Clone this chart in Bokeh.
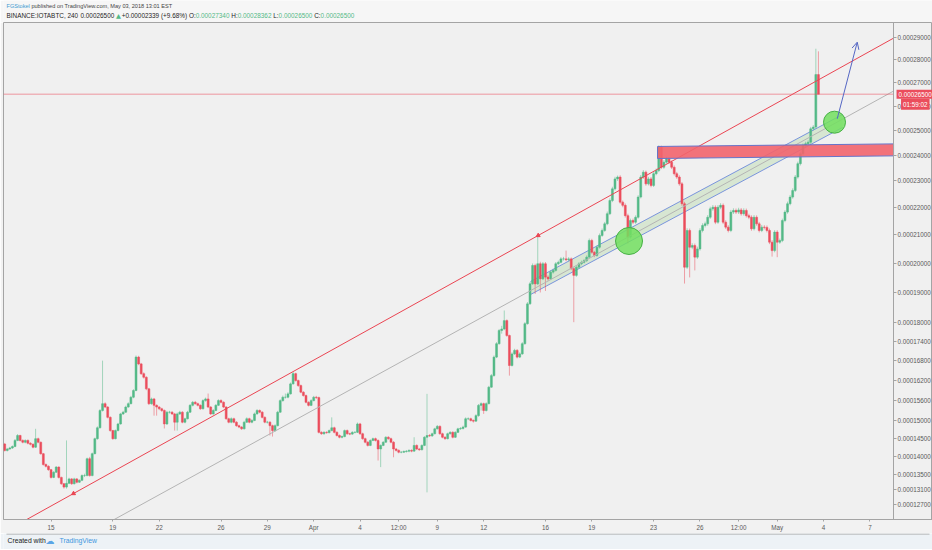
import math
import numpy as np
import pandas as pd
from bokeh.plotting import figure
from bokeh.layouts import column
from bokeh.models import (ColumnDataSource, Range1d, FixedTicker, CustomJSTickFormatter,
                          CustomJSTransform, Label, Arrow, OpenHead)
from bokeh.transform import transform
from bokeh.embed import file_html
from bokeh.resources import INLINE

# ---------------------------------------------------------------- data
SAT = 1e-8
bar_start = "2018-03-12 00:00"          # first 4h bar shown
first_open_sat = 14340                  # open of the first bar (later opens = previous close)

close_sat = [
    14160, 14200, 14230, 14270, 14440, 14580, 14440, 14390, 14440, 14360,
    14330, 14250, 14490, 14390, 14070, 13770, 13720, 13630, 13420, 13560,
    13700, 13420, 13250, 13160, 13260, 13380, 13250, 13380, 13290, 13340,
    13470, 13470, 13930, 13470, 14070, 14490, 14800, 15300, 15500, 15400,
    15100, 14720, 14490, 14720, 14910, 15200, 15250, 15400, 15500, 15690,
    15890, 16910, 16700, 16400, 16290, 15940, 15500, 15640, 15450, 15400,
    15350, 15300, 14910, 15250, 15250, 15200, 14960, 15200, 15250, 14960,
    15060, 15250, 15450, 15540, 15500, 15450, 15350, 15590, 15640, 15400,
    15200, 15300, 15450, 15590, 15540, 15400, 15060, 14960, 15060, 14960,
    14860, 14820, 14770, 14960, 15060, 14960, 15010, 15200, 15300, 15250,
    15100, 14960, 14960, 14860, 14720, 14860, 15250, 15590, 15690, 15690,
    15790, 16090, 16400, 16190, 16040, 15840, 15740, 15540, 15450, 15590,
    15690, 15680, 14670, 14630, 14670, 14660, 14720, 14800, 14670, 14580,
    14530, 14550, 14720, 14630, 14620, 14670, 14670, 14910, 14630, 14490,
    14390, 14300, 14440, 14490, 14440, 14200, 14300, 14390, 14530, 14490,
    14390, 14200, 14160, 14110, 14110, 14130, 14140, 14160, 14140, 14300,
    14200, 14180, 14300, 14530, 14580, 14570, 14630, 14770, 14840, 14630,
    14530, 14490, 14630, 14670, 14530, 14670, 14770, 14780, 14820, 15060,
    15060, 15010, 14990, 15150, 15450, 15500, 15300, 15500, 15990, 16340,
    16910, 17330, 17750, 17800, 18070, 17590, 16650, 17010, 17120, 16910,
    17010, 17330, 17970, 18620, 19290, 19920, 19290, 19980, 19460, 19980,
    19520, 19460, 19690, 19750, 19980, 20030, 20150, 20150, 20120, 20150,
    19810, 19580, 19860, 19980, 20030, 20090, 20210, 20800, 20380, 20270,
    20560, 20980, 21160, 21400, 21770, 22260, 22700, 23080, 23150, 22200,
    22080, 21700, 20920, 21520, 21460, 21640, 22390, 23150, 23340, 22890,
    23080, 22830, 23280, 23400, 24320, 23530, 23730, 23860, 23730, 23530,
    23280, 23150, 22890, 22140, 19860, 21160, 20560, 20620, 20210, 20500,
    21160, 21340, 21400, 21640, 21950, 22010, 21460, 22010, 22080, 21460,
    21280, 21160, 21830, 21890, 21830, 21910, 21770, 21890, 21700, 21640,
    21220, 21640, 21400, 21160, 21280, 21270, 21160, 20740, 20440, 21100,
    20740, 20800, 21520, 21830, 22140, 22390, 22640, 23150, 23670, 24060,
    24390, 24460, 24520, 25060, 25130, 27340, 26500]

high_sat = [
    14370, 14230, 14260, 14300, 14480, 14620, 14600, 14470, 14470, 14470,
    14390, 14360, 14770, 14520, 14410, 14090, 13800, 13750, 13650, 13590,
    13730, 13720, 13440, 13270, 14440, 13410, 13400, 13410, 13400, 13370,
    13500, 13520, 13960, 13980, 14100, 14520, 14840, 15340, 16800, 15540,
    15430, 15130, 14740, 14750, 14940, 15230, 15290, 15440, 15540, 15730,
    15930, 16960, 16950, 16730, 16440, 16320, 15970, 15680, 15670, 15480,
    15430, 15380, 15330, 15290, 15290, 15280, 15230, 15240, 15290, 15280,
    15090, 15290, 15490, 15580, 15580, 15530, 15480, 15630, 15680, 15800,
    15430, 15340, 15490, 15630, 15630, 15570, 15430, 15090, 15100, 15090,
    14990, 14890, 14850, 15000, 15100, 15090, 15050, 15240, 15340, 15330,
    15280, 15130, 15000, 14990, 14890, 14900, 15290, 15630, 15740, 15800,
    15840, 16130, 16450, 16430, 16220, 16070, 15870, 15770, 15570, 15630,
    15730, 15730, 15710, 14700, 14700, 14700, 14750, 15100, 14830, 14700,
    14610, 14580, 14750, 14750, 14660, 14700, 14700, 14950, 14940, 14660,
    14520, 14420, 14470, 14520, 14520, 14470, 14330, 14420, 14560, 14560,
    14520, 14420, 14230, 14190, 14140, 14160, 14170, 14190, 14190, 14530,
    14330, 14230, 14330, 14560, 15790, 14620, 14660, 14800, 14880, 14870,
    14660, 14560, 14660, 14700, 14700, 14700, 14800, 14820, 14860, 15100,
    15100, 15090, 15040, 15190, 15490, 15540, 15530, 15540, 16030, 16390,
    16960, 17380, 17800, 17900, 18400, 18110, 17620, 17060, 17170, 17160,
    17060, 17380, 18020, 18680, 19350, 19990, 19980, 20980, 20050, 20040,
    20040, 19580, 19750, 19810, 20040, 20090, 20210, 20220, 20440, 20210,
    20200, 19860, 19920, 20040, 20090, 20150, 20270, 20870, 20860, 20430,
    20620, 21050, 21230, 21470, 21850, 22340, 22780, 23160, 23210, 23220,
    22260, 22150, 21770, 21590, 21590, 21710, 22460, 23230, 23420, 23400,
    23160, 23150, 23360, 23480, 24390, 24380, 23810, 23940, 23930, 23800,
    23600, 23350, 23220, 22960, 22210, 21240, 21230, 20700, 20690, 20580,
    21240, 21420, 21480, 21720, 22030, 22090, 22080, 22090, 22160, 22150,
    21530, 21350, 21910, 21970, 21960, 21990, 21980, 21970, 21960, 21770,
    21710, 21720, 21710, 21470, 21360, 21350, 21340, 21230, 20810, 21170,
    21170, 20870, 21590, 21900, 22220, 22470, 22720, 23230, 23750, 24140,
    24470, 24540, 24600, 25140, 25210, 28480, 28362]

low_sat = [
    14130, 14130, 14180, 14200, 14250, 14420, 14410, 14360, 14360, 14330,
    14300, 14220, 14230, 14360, 14040, 13740, 13690, 13600, 13390, 13400,
    13540, 13390, 13220, 13120, 13120, 13240, 13220, 13230, 13260, 13270,
    13320, 13430, 13450, 13440, 13450, 14050, 14460, 14780, 15270, 15370,
    15070, 14690, 14460, 14470, 14700, 14890, 15170, 15230, 15380, 15480,
    15660, 15870, 16660, 16360, 16250, 15900, 15460, 15470, 15150, 15150,
    15310, 15260, 14780, 14880, 15210, 15170, 14720, 14720, 15170, 14930,
    14930, 15040, 15230, 15420, 15470, 15420, 15320, 15330, 15560, 15370,
    15170, 15180, 15280, 15430, 15510, 15370, 15030, 14930, 14930, 14930,
    14830, 14790, 14740, 14750, 14940, 14930, 14930, 14990, 15180, 15220,
    15070, 14930, 14920, 14580, 14550, 14690, 14840, 15230, 15560, 15650,
    15660, 15770, 16070, 16160, 16000, 15810, 15710, 15510, 15420, 15430,
    15570, 15640, 14640, 14600, 14600, 14630, 14640, 14700, 14640, 14550,
    14500, 14500, 14530, 14600, 14590, 14600, 14640, 14650, 14600, 14460,
    14360, 14270, 14280, 14420, 14410, 13880, 13700, 14280, 14370, 14460,
    14360, 13970, 14130, 14080, 14080, 14090, 14100, 14110, 14110, 14120,
    14170, 14150, 14160, 14280, 13020, 14540, 14540, 14610, 14750, 14600,
    14500, 14460, 14470, 14610, 14500, 14510, 14650, 14740, 14750, 14800,
    15020, 14980, 14950, 14970, 15120, 15300, 15200, 15270, 15480, 15970,
    16310, 16880, 17300, 17650, 17760, 17550, 16340, 16620, 16980, 16870,
    16880, 16980, 17300, 17940, 18590, 19260, 18950, 19250, 19000, 19420,
    19050, 19400, 19420, 19640, 19710, 19930, 19990, 20090, 20070, 20070,
    19760, 18020, 19530, 19810, 19930, 19990, 20040, 20170, 20330, 20210,
    20220, 20510, 20930, 21110, 21350, 21720, 22200, 22640, 23000, 22140,
    22010, 21630, 20690, 20870, 21390, 21400, 21590, 22340, 23080, 22820,
    22830, 22760, 22770, 23220, 23340, 23460, 23470, 23670, 23660, 23460,
    23210, 23080, 22820, 22060, 19300, 19800, 19510, 20490, 19750, 20150,
    20440, 21090, 21270, 21330, 21580, 21880, 21390, 21400, 21940, 21390,
    21210, 21090, 21100, 21760, 21760, 21760, 21700, 21700, 21630, 21570,
    21150, 21160, 21330, 21090, 21100, 21200, 21090, 20670, 20230, 20380,
    20210, 20680, 20740, 21460, 21770, 22080, 22330, 22580, 23090, 23600,
    23990, 24310, 24380, 24450, 24990, 25060, 26500]

# drawings on the chart (time, price in satoshi)
red_trend_time = ["2018-03-16 10:54", "2018-04-15 12:42"]
red_trend_sat = [12989, 20979]
gray_trend_time = ["2018-03-21 10:30", "2018-05-05 10:06"]
gray_trend_sat = [12830, 25525]
channel_time = ["2018-04-15 00:48", "2018-05-05 05:24"]
channel_upper_sat = [19370, 25649]
channel_lower_sat = [18931, 25115]
zone_time = ["2018-04-23 06:06", "2018-05-08 12:42"]
zone_top_sat = [24349, 24452]
zone_bottom_sat = [23873, 23976]
circle_time = ["2018-04-21 09:48", "2018-05-04 17:00"]
circle_sat = [20781, 25331]
arrow_time = ["2018-05-04 21:12", "2018-05-06 04:18"]
arrow_sat = [25471, 28775]
last_price_sat = 26500
countdown = "01:59:02"

x_tick_dates = ["2018-03-15", "2018-03-19", "2018-03-22", "2018-03-26", "2018-03-29",
                "2018-04-01", "2018-04-04", "2018-04-06 12:00", "2018-04-09", "2018-04-12",
                "2018-04-16", "2018-04-19", "2018-04-23", "2018-04-26", "2018-04-28 12:00",
                "2018-05-01", "2018-05-04", "2018-05-07"]
x_tick_labels = ["15", "19", "22", "26", "29", "Apr", "4", "12:00", "9", "12",
                 "16", "19", "23", "26", "12:00", "May", "4", "7"]
y_tick_sat = [29000, 28000, 27000, 26000, 25000, 24000, 23000, 22000, 21000, 20000,
              19000, 18000, 17400, 16800, 16200, 15600, 15000, 14500, 14000, 13500,
              13100, 12700]

header_1 = ["FGStokel", "published on TradingView.com, May 03, 2018 13:01 EST"]
header_2 = ["BINANCE:IOTABTC, 240", "0.00026500", "\u25b2", "+0.00002339 (+9.68%)",
            "O:", "0.00027340", "H:", "0.00028362", "L:", "0.00026500", "C:", "0.00026500"]

# ---------------------------------------------------------------- helpers
OFFSET = 9500 * SAT   # the reference price axis is log(price + offset)
UP, DOWN = "#53b987", "#eb4d5c"
FONT = "Liberation Sans"
W = 932
VIEW_START = "2018-03-11 22:08"
AXIS_AT = "2018-05-08 12:42"      # where the price scale starts
VIEW_END = "2018-05-11 01:12"


def ms(s):
    return pd.Timestamp(s).value / 1e6


def ty(price):
    return math.log(price + OFFSET)


def line_at(times_, sats, t_new):
    """price of the straight (on screen) line through two anchors, at time t_new"""
    t0, t1 = ms(times_[0]), ms(times_[1])
    y0, y1 = ty(sats[0] * SAT), ty(sats[1] * SAT)
    yy = y0 + (y1 - y0) * (ms(t_new) - t0) / (t1 - t0)
    return math.exp(yy) - OFFSET


tf = CustomJSTransform(
    args=dict(c=OFFSET),
    func="return Math.log(x + c)",
    v_func="const out = new Float64Array(xs.length); for (let i = 0; i < xs.length; i++) { out[i] = Math.log(xs[i] + c) } return out")

n = len(close_sat)
times = pd.date_range(bar_start, periods=n, freq="4h")
c = np.array(close_sat) * SAT
o = np.array([first_open_sat] + close_sat[:-1]) * SAT
h = np.array(high_sat) * SAT
lo = np.array(low_sat) * SAT
colors = np.where(c >= o, UP, DOWN)
src = ColumnDataSource(dict(t=times, h=h, l=lo, top=np.maximum(o, c), bot=np.minimum(o, c), color=colors))

# ---------------------------------------------------------------- header strip
header = figure(width=W, height=22, x_range=Range1d(0, W), y_range=Range1d(0, 22),
                x_axis_type=None, y_axis_type=None, toolbar_location=None,
                output_backend="svg", min_border=0)
header.outline_line_color = None
header.background_fill_color = "#f6f6f6"
header.border_fill_color = "#f6f6f6"


def htext(fig, x, y, t, color, size, font=FONT):
    fig.add_layout(Label(x=x, y=y, x_units="screen", y_units="screen", text=t, text_color=color,
                         text_font=font, text_font_size=f"{size}px", text_baseline="middle"))


htext(header, 3, 17, header_1[0], "#3d9ad1", 5.6)
htext(header, 3 + (4.168 + 0.278) * 5.6, 17, header_1[1], "#444444", 5.6)
em2 = [0, 11.559, 17.119, 17.997, 28.504, 29.56, 35.12, 36.12, 41.68, 42.514, 48.074, 49.074]
col2 = ["#1e1e1e", "#1e1e1e", UP, "#1e1e1e", "#1e1e1e", UP, "#1e1e1e", UP, "#1e1e1e", UP, "#1e1e1e", UP]
for e, tt, cc in zip(em2, header_2, col2):
    htext(header, 3 + e * 6.4, 6.7, tt, cc, 6.4, font=("DejaVu Sans" if tt == "\u25b2" else FONT))

# ---------------------------------------------------------------- main chart
MH = 511            # frame 497 px + x-axis strip
p = figure(width=W, height=MH,
           x_range=Range1d(ms(VIEW_START), ms(VIEW_END)),
           y_range=Range1d(ty(12311 * SAT), ty(29672 * SAT)),
           y_axis_location="right", output_backend="svg", toolbar_location=None,
           min_border_left=3, min_border_right=0, min_border_top=0, min_border_bottom=14)

p.background_fill_color = "#f0f0f0"
p.border_fill_color = "#f2f2f2"
p.outline_line_color = "#a4a4a4"
p.xgrid.grid_line_color = None
p.ygrid.grid_line_color = None

for ax in (p.xaxis[0], p.yaxis[0]):
    ax.axis_line_color = "#a4a4a4"
    ax.major_tick_line_color = "#a4a4a4"
    ax.minor_tick_line_color = None
    ax.major_tick_in = 0
    ax.major_label_text_font = FONT
    ax.major_label_text_font_size = "6.3px"
    ax.major_label_text_color = "#5a5a5a"

p.xaxis.major_tick_out = 2
p.xaxis.major_label_standoff = 2
p.xaxis.ticker = FixedTicker(ticks=[ms(d) for d in x_tick_dates])
p.xaxis.formatter = CustomJSTickFormatter(args=dict(labels=x_tick_labels), code="return labels[index]")

p.yaxis.fixed_location = ms(AXIS_AT)
p.yaxis.major_tick_out = 3
p.yaxis.major_label_standoff = 1
p.yaxis.ticker = FixedTicker(ticks=[ty(v * SAT) for v in y_tick_sat])
p.yaxis.formatter = CustomJSTickFormatter(args=dict(c=OFFSET), code="return (Math.exp(tick) - c).toFixed(8)")

# channel (behind candles)
ch_t = [pd.Timestamp(s) for s in channel_time]
ch_src = ColumnDataSource(dict(x=[ch_t[0], ch_t[1], ch_t[1], ch_t[0]],
                               y=[channel_upper_sat[0] * SAT, channel_upper_sat[1] * SAT,
                                  channel_lower_sat[1] * SAT, channel_lower_sat[0] * SAT]))
p.patch(x="x", y=transform("y", tf), source=ch_src, fill_color="#a9d39c", fill_alpha=0.35, line_color=None)
for vals in (channel_upper_sat, channel_lower_sat):
    s = ColumnDataSource(dict(x=ch_t, y=[v * SAT for v in vals]))
    p.line(x="x", y=transform("y", tf), source=s, line_color="#6e8bdc", line_width=1, line_alpha=0.9)

# candles
p.segment(x0="t", y0=transform("h", tf), x1="t", y1=transform("l", tf), line_color="color",
          line_alpha=0.5, line_width=1, source=src)
p.vbar(x="t", width=4 * 3600 * 1000 * 0.75, top=transform("top", tf), bottom=transform("bot", tf),
       fill_color="color", line_color="color", line_width=0.5, source=src)

# trend lines, extended to the edges of the chart area
ends = [pd.Timestamp(VIEW_START), pd.Timestamp(AXIS_AT)]
for anchors_t, anchors_p, col in ((gray_trend_time, gray_trend_sat, "#b4b4b4"),
                                  (red_trend_time, red_trend_sat, "#ea4552")):
    s = ColumnDataSource(dict(x=ends, y=[line_at(anchors_t, anchors_p, VIEW_START),
                                         line_at(anchors_t, anchors_p, AXIS_AT)]))
    p.line(x="x", y=transform("y", tf), source=s, line_color=col, line_width=1)
mk_src = ColumnDataSource(dict(x=[pd.Timestamp(s) for s in red_trend_time], y=[v * SAT for v in red_trend_sat]))
p.scatter(x="x", y=transform("y", tf), source=mk_src, marker="triangle", size=4, color="#ea4552")

# resistance zone
zt = [pd.Timestamp(s) for s in zone_time]
z_src = ColumnDataSource(dict(x=[zt[0], zt[1], zt[1], zt[0]],
                              y=[zone_top_sat[0] * SAT, zone_top_sat[1] * SAT,
                                 zone_bottom_sat[1] * SAT, zone_bottom_sat[0] * SAT]))
p.patch(x="x", y=transform("y", tf), source=z_src, fill_color="#f2646d", fill_alpha=0.9,
        line_color="#6673c9", line_width=1)

# last price line
lp_src = ColumnDataSource(dict(x=ends, y=[last_price_sat * SAT] * 2))
p.line(x="x", y=transform("y", tf), source=lp_src, line_color=DOWN, line_width=1, line_alpha=0.55)

# circles
c_src = ColumnDataSource(dict(x=[pd.Timestamp(s) for s in circle_time], y=[v * SAT for v in circle_sat],
                              size=[27, 22]))
p.scatter(x="x", y=transform("y", tf), size="size", source=c_src, marker="circle",
          fill_color="#72df5f", fill_alpha=0.85, line_color="#47b046", line_width=1)

# arrow
p.add_layout(Arrow(end=OpenHead(size=7, line_color="#5567c4", line_width=1),
                   x_start=ms(arrow_time[0]), y_start=ty(arrow_sat[0] * SAT),
                   x_end=ms(arrow_time[1]), y_end=ty(arrow_sat[1] * SAT),
                   line_color="#5567c4", line_width=1))

# price tags on the price scale
p.add_layout(Label(x=ms(AXIS_AT), x_offset=3, y=ty(last_price_sat * SAT),
                   text="%.8f" % (last_price_sat * SAT), text_color="white", text_font=FONT,
                   text_font_size="6.3px", text_baseline="middle", background_fill_color=DOWN,
                   padding=2, level="overlay"))
p.add_layout(Label(x=ms(AXIS_AT), x_offset=36, y=ty(last_price_sat * SAT), y_offset=-10,
                   text=countdown, text_color="white", text_font=FONT,
                   text_font_size="6.3px", text_baseline="middle", text_align="right",
                   background_fill_color=DOWN, padding=2, level="overlay"))

# ---------------------------------------------------------------- footer strip
footer = figure(width=W, height=16, x_range=Range1d(0, W), y_range=Range1d(0, 16),
                x_axis_type=None, y_axis_type=None, toolbar_location=None,
                output_backend="svg", min_border=0)
footer.outline_line_color = None
footer.background_fill_color = "#edf2f6"
footer.border_fill_color = "#edf2f6"
footer.segment(x0=[3], y0=[15.5], x1=[929], y1=[15.5], line_color="#a4a4a4", line_width=1)
htext(footer, 4, 9, "Created with", "#222222", 6.8)
htext(footer, 42, 9, "\u2601", "#5aa5e6", 9, font="DejaVu Sans")
htext(footer, 56, 9, "TradingView", "#3d97e0", 6.8)

open("out.html", "w").write(file_html(column(header, p, footer), INLINE))
